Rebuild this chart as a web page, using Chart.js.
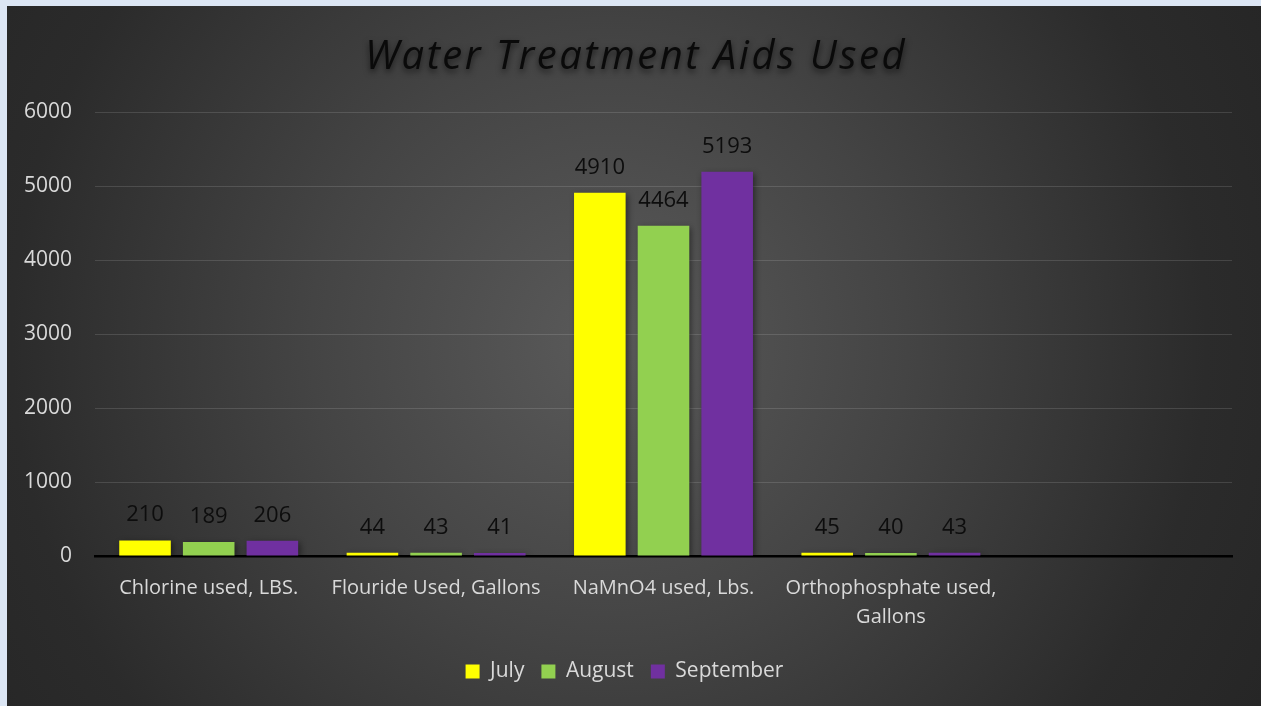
<!DOCTYPE html>
<html>
<head>
<meta charset="utf-8">
<script src="https://cdn.jsdelivr.net/npm/chart.js@4.4.1/dist/chart.umd.min.js"></script>
<style>
  html, body { margin: 0; padding: 0; background: #dce6f4; width: 1261px; height: 706px; overflow: hidden; }
  #wrap {
    position: absolute; left: 7px; top: 6px; width: 1254px; height: 700px;
    background: radial-gradient(circle farthest-corner at 48% 48%, #5a5a5a 0%, #444 40%, #2b2b2b 80%, #262626 100%);
  }
</style>
</head>
<body>
<div id="wrap"><canvas id="chart"></canvas></div>
<script>
const categories = [
  'Chlorine used, LBS.',
  'Flouride Used, Gallons',
  'NaMnO4 used, Lbs.',
  ['Orthophosphate used,', 'Gallons'],
  ''
];
const july = [210, 44, 4910, 45, null];
const august = [189, 43, 4464, 40, null];
const september = [206, 41, 5193, 43, null];
const yTicks = [0, 1000, 2000, 3000, 4000, 5000, 6000];

const FONT = '"Open Sans", Lato, sans-serif';

// value labels over each bar
const valueLabels = {
  id: 'valueLabels',
  afterDatasetsDraw(chart) {
    const ctx = chart.ctx;
    ctx.save();
    ctx.font = '22px ' + FONT;
    ctx.fillStyle = '#0d0d0d';
    ctx.textAlign = 'center';
    ctx.textBaseline = 'alphabetic';
    chart.data.datasets.forEach((ds, i) => {
      chart.getDatasetMeta(i).data.forEach((bar, j) => {
        if (ds.data[j] == null) return;
        ctx.fillText(ds.data[j], bar.x, bar.y - 19);
      });
    });
    ctx.restore();
  }
};

// soft shadow under the bars
const barShadow = {
  id: 'barShadow',
  beforeDatasetsDraw(chart) {
    const ctx = chart.ctx;
    ctx.save();
    ctx.shadowColor = 'rgba(0,0,0,0.45)';
    ctx.shadowBlur = 6;
    ctx.shadowOffsetX = 2;
    ctx.shadowOffsetY = 2;
  },
  afterDatasetsDraw(chart) {
    chart.ctx.restore();
  }
};

// title with letter spacing and a dark glow
const spacedTitle = {
  id: 'spacedTitle',
  afterDraw(chart) {
    const ctx = chart.ctx;
    ctx.save();
    ctx.font = 'italic 40px ' + FONT;
    ctx.letterSpacing = '2.5px';
    ctx.fillStyle = '#0a0a0a';
    ctx.textAlign = 'center';
    ctx.textBaseline = 'alphabetic';
    ctx.shadowColor = 'rgba(0,0,0,0.6)';
    ctx.shadowBlur = 6;
    ctx.shadowOffsetY = 3;
    ctx.fillText('Water Treatment Aids Used', 629, 63);
    ctx.restore();
  }
};

let barGraph = document.getElementById('chart');
let barConfig = {
  type: 'bar',
  data: {
    labels: categories,
    datasets: [
      { label: 'July', data: july, backgroundColor: '#ffff00' },
      { label: 'August', data: august, backgroundColor: '#92d050' },
      { label: 'September', data: september, backgroundColor: '#7030a0' }
    ]
  },
  options: {
    responsive: true,
    maintainAspectRatio: false,
    animation: false,
    layout: { padding: { left: 10, right: 29, top: 106, bottom: 14 } },
    datasets: {
      bar: { categoryPercentage: 0.84, barPercentage: 0.81 }
    },
    scales: {
      x: {
        afterFit(axis) { axis.height = 88; },
        grid: { display: false, drawTicks: false },
        border: { display: true, color: '#000', width: 2.5 },
        ticks: {
          color: '#d9d9d9',
          font: { family: FONT, size: 20, lineHeight: 1.45 },
          padding: 18,
          maxRotation: 0,
          autoSkip: false
        }
      },
      y: {
        min: 0,
        max: 6000,
        afterBuildTicks(axis) { axis.ticks = yTicks.map(v => ({ value: v })); },
        afterFit(axis) { axis.width = 78; },
        grid: { color: 'rgba(255,255,255,0.13)', lineWidth: 1, drawTicks: false },
        border: { display: false },
        ticks: {
          color: '#d9d9d9',
          font: { family: FONT, size: 21 },
          padding: 23,
          callback: v => String(v)
        }
      }
    },
    plugins: {
      title: { display: false },
      tooltip: { enabled: false },
      legend: {
        position: 'bottom',
        labels: {
          color: '#d9d9d9',
          font: { family: FONT, size: 21 },
          boxWidth: 14,
          boxHeight: 14,
          padding: 17
        }
      }
    }
  },
  plugins: [barShadow, valueLabels, spacedTitle]
};
let barChart = new Chart(barGraph, barConfig);
</script>
</body>
</html>
